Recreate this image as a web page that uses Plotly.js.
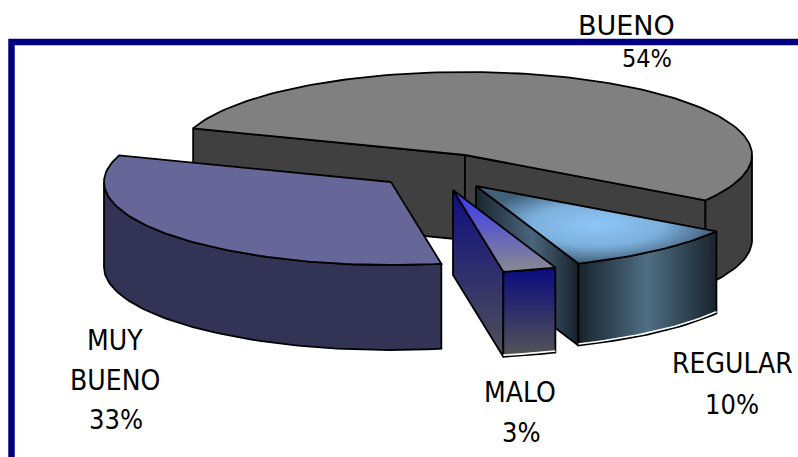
<!DOCTYPE html>
<html><head><meta charset="utf-8">
<script src="https://cdn.plot.ly/plotly-3.0.1.min.js"></script>
<style>html,body{margin:0;padding:0;background:#fff;overflow:hidden}</style></head>
<body><div id="chart" style="width:798px;height:457px"></div>
<script>
const categories = ["BUENO", "REGULAR", "MALO", "MUY BUENO"];
const values = [54, 10, 3, 33];
const startAngle = -71.3;

const W = 798, H = 457, rx = 287;
const geom = {
  "BUENO":     {cx: 465, cy: 155, ry: 83, d: 85},
  "REGULAR":   {cx: 476, cy: 186, ry: 83, d: 82},
  "MALO":      {cx: 453, cy: 190, ry: 83, d: 85},
  "MUY BUENO": {cx: 391, cy: 182, ry: 83, d: 85}
};
const total = values.reduce((a, b) => a + b, 0);
let acc = startAngle;
const slices = {};
categories.forEach((c, i) => {
  const a0 = acc, a1 = acc + values[i] / total * 360;
  acc = a1;
  slices[c] = {a0, a1, ...geom[c]};
});
const rad = d => d * Math.PI / 180;
const pt = (s, a, dz = 0) => [s.cx + rx * Math.sin(rad(a)), s.cy - s.ry * Math.cos(rad(a)) + dz];
const arc = (s, a0, a1, dz = 0) => {
  const n = Math.max(2, Math.ceil(Math.abs(a1 - a0) / 1.5));
  const out = [];
  for (let i = 0; i <= n; i++) out.push(pt(s, a0 + (a1 - a0) * i / n, dz));
  return out;
};
const traces = [];
function poly(points, style) {
  const closed = points.concat([points[0]]);
  const t = {
    x: closed.map(p => p[0]), y: closed.map(p => p[1]),
    mode: "lines", fill: "toself", hoverinfo: "skip", showlegend: false,
    line: {color: "#000", width: style.lw || 1.8, shape: "linear"}
  };
  if (style.grad) t.fillgradient = style.grad; else t.fillcolor = style.fill;
  traces.push(t);
}
function edge(points, color, width) {
  traces.push({x: points.map(p => p[0]), y: points.map(p => p[1]), mode: "lines",
    hoverinfo: "skip", showlegend: false, line: {color, width}});
}
const topFace = s => [[s.cx, s.cy]].concat(arc(s, s.a0, s.a1));
const outer = (s, a0, a1) => arc(s, a0, a1).concat(arc(s, a1, a0, s.d));
const cut = (s, a) => { const p = pt(s, a); return [[s.cx, s.cy], p, [p[0], p[1] + s.d], [s.cx, s.cy + s.d]]; };
const scale = (c0, c1) => [[0, c0], [1, c1]];

// BUENO
let s = slices["BUENO"];
poly(cut(s, s.a0), {fill: "#404040"});
poly(cut(s, s.a1), {fill: "#404040"});
poly(outer(s, 90, s.a1), {fill: "#404040"});
poly(topFace(s), {fill: "#808080"});
// MUY BUENO
s = slices["MUY BUENO"];
poly(outer(s, s.a0, 270), {fill: "#333355"});
poly(topFace(s), {fill: "#666699"});
// REGULAR
s = slices["REGULAR"];
poly(cut(s, s.a1), {grad: {type: "horizontal", colorscale: [[0, "#1a2630"], [0.55, "#4a667c"], [1, "#16212a"]]}});
poly(outer(s, s.a0, s.a1), {grad: {type: "horizontal", colorscale: [[0, "#18232b"], [0.5, "#4f6e84"], [1, "#18232b"]]}});
poly(topFace(s), {grad: {type: "radial", colorscale: [[0, "#8fc6f8"], [0.55, "#7cb0dc"], [1, "#41607a"]]}});
edge(arc(s, s.a0, s.a1, s.d - 1.6), "#ffffff", 1.6);
// MALO
s = slices["MALO"];
poly(cut(s, s.a1), {grad: {type: "vertical", colorscale: scale("#50505a", "#0e0e80")}});
poly(outer(s, s.a0, s.a1), {grad: {type: "vertical", colorscale: scale("#555555", "#0a0a80")}});
poly(topFace(s), {grad: {type: "vertical", colorscale: scale("#8a8a90", "#3535f5")}});
edge(arc(s, s.a0, s.a1, s.d - 1.6), "#ffffff", 1.6);

// frame
const frame = {x: [11.5, 11.5, W + 5], y: [H + 5, 42, 42], mode: "lines", hoverinfo: "skip", showlegend: false,
  line: {color: "#000080", width: 6.5}};

const family = "'DejaVu Sans Condensed','DejaVu Sans'";
const label = (text, x, y, size, fam) => ({text, x, y, xref: "x", yref: "y",
  showarrow: false, xanchor: "center", yanchor: "middle",
  font: {family: fam || family, size, color: "#000"}});
const annotations = [
  label("BUENO", 626, 25, 27, "'DejaVu Sans'"),
  label("54%", 647, 58, 25),
  label("REGULAR", 732, 363, 28),
  label("10%", 732, 404, 27),
  label("MALO", 520, 392, 28),
  label("3%", 521, 432, 27),
  label("MUY", 115, 340, 28),
  label("BUENO", 115, 380, 28),
  label("33%", 116, 419, 27)
];
const layout = {
  width: W, height: H, margin: {l: 0, r: 0, t: 0, b: 0},
  paper_bgcolor: "#fff", plot_bgcolor: "#fff", showlegend: false,
  xaxis: {range: [0, W], visible: false, fixedrange: true},
  yaxis: {range: [H, 0], visible: false, fixedrange: true},
  annotations
};
Plotly.newPlot("chart", [frame, ...traces], layout, {displayModeBar: false, staticPlot: true});
</script></body></html>
